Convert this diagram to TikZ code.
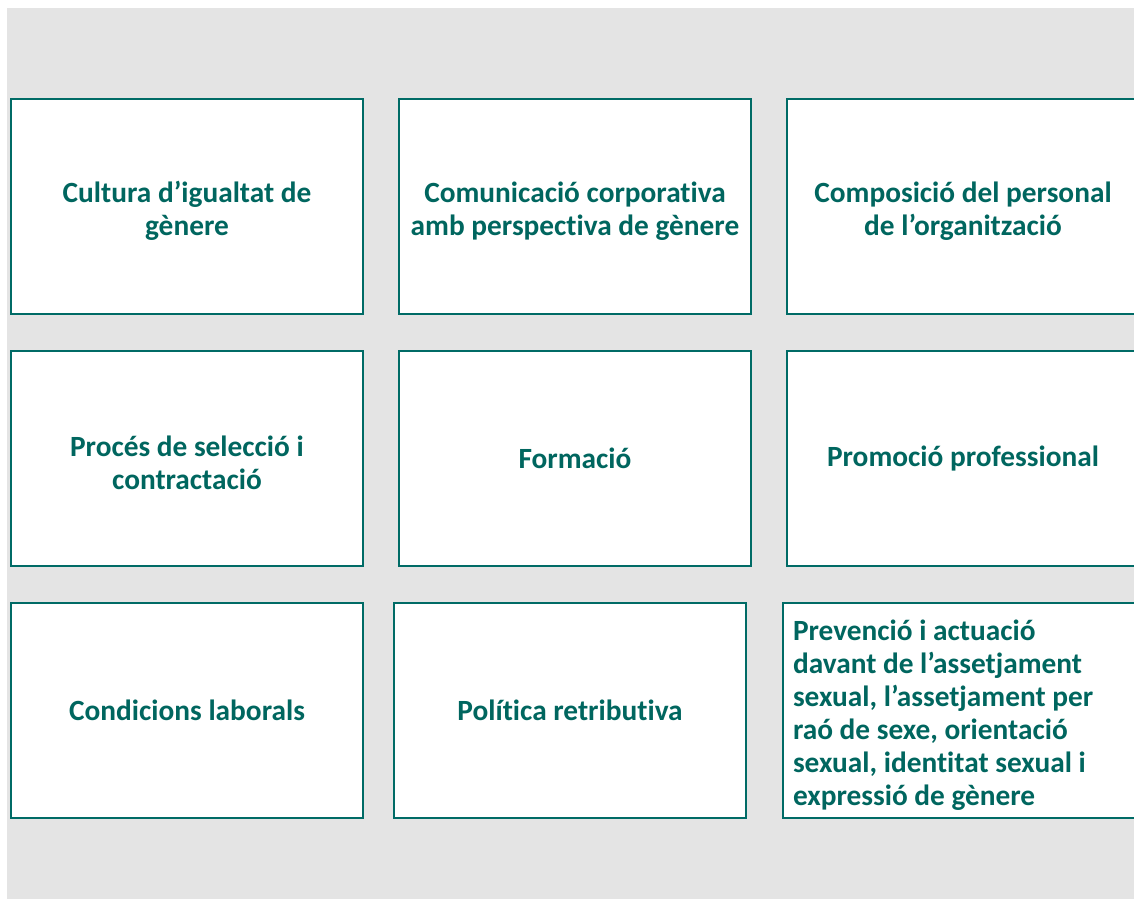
\documentclass[tikz,border=0pt]{standalone}
\usepackage{fontspec}
\setmainfont[Ligatures=NoCommon]{Carlito}
\usetikzlibrary{positioning}
\definecolor{fons}{HTML}{E4E4E4}
\definecolor{vora}{HTML}{006B66}
\definecolor{lletra}{HTML}{00665F}
\tikzset{
	ambit/.style={
		rectangle,
		draw=vora, line width=1.3pt,
		fill=white,
		minimum width=264pt,
		minimum height=161.25pt,
		inner sep=0pt,
		align=center,
		text=lletra,
		font=\bfseries\fontsize{22}{24.75}\selectfont},
	% text on several lines sits a little lower in its box
	diverses linies/.style={
		text width=256pt,
		align=flush center,
		execute at begin node={\rule{0pt}{22.5pt}}},
}

\begin{document}
\begin{tikzpicture}[x=0.75pt, y=-0.75pt]
	% Fix the page to the size of the picture and cut what sticks out on the right
	\useasboundingbox (0,0) rectangle (1134,899);
	\clip (0,0) rectangle (1134,899);
	\fill[fons] (7,8) rectangle (1134,899);

	% Areas with text on two lines
	\foreach \nom/\x/\y/\text in {
		cultura/187/206.5/{Cultura d’igualtat de\\gènere},
		comunicacio/575/206.5/{Comunicació corporativa\\amb perspectiva de gènere},
		composicio/963/206.5/{Composició del personal\\de l’organització},
		proces/187/458.5/{Procés de selecció i\\contractació}}
		\node[ambit, diverses linies] (\nom) at (\x,\y) {\text};

	% Areas with one line only (last row is shifted a little to the left)
	\foreach \nom/\x/\y/\text in {
		formacio/575/458.5/{Formació},
		promocio/963/458.5/{Promoció professional},
		condicions/187/710.5/{Condicions laborals},
		politica/570/710.5/{Política retributiva}}
		\node[ambit] (\nom) at (\x,\y) {\text};

	\node[ambit, diverses linies, align=flush left, text width=249pt] (prevencio) at (959,710.5)
		{Prevenció i actuació\\davant de l’assetjament\\sexual, l’assetjament per\\raó de sexe, orientació\\sexual, identitat sexual i\\expressió de gènere};
\end{tikzpicture}
\end{document}
